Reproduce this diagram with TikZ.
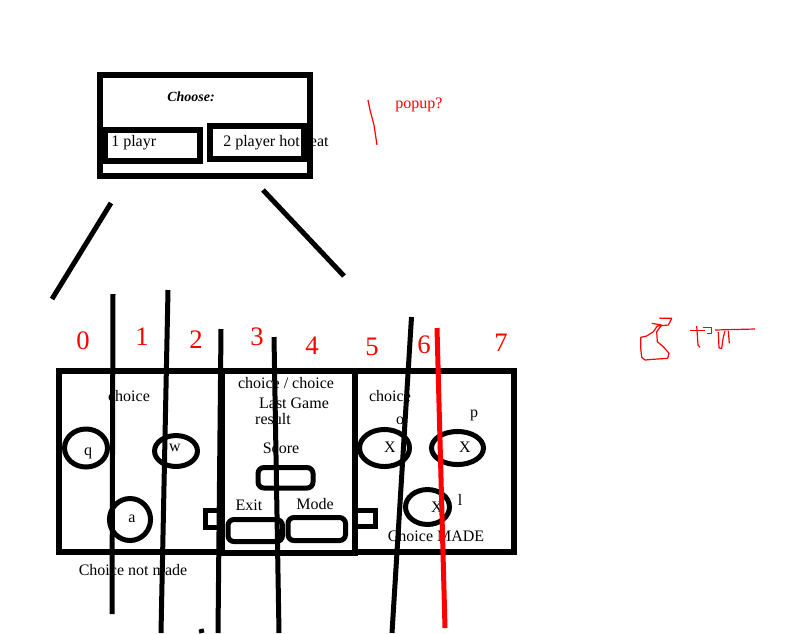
\documentclass[tikz,border=0pt]{standalone}
\usepackage{fontspec}
\setmainfont{Liberation Serif}
\begin{document}
\begin{tikzpicture}[x=0.75pt,y=-0.75pt,
  blk/.style={line width=3.75pt},
  heavy/.style={line width=4.5pt},
  redline/.style={red, line width=3.75pt},
  thinred/.style={red, line width=0.9pt, line join=round},
  lbl/.style={inner sep=0pt, font=\fontsize{12}{14}\selectfont},
  digit/.style={inner sep=0pt, text=red, font=\fontsize{20}{20}\selectfont},
  rbox/.style={blk, rounded corners=4.5pt}]
\useasboundingbox[fill=white] (0,0) rectangle (802,633);

% top chooser box
\draw[heavy] (100,75) rectangle (310,176);
\node[lbl, font=\fontsize{10.5}{12}\selectfont\bfseries\itshape] (choose) at (191,97) {Choose:};
\draw[heavy] (105,129.5) rectangle (199.5,161);
\draw[heavy] (209.5,125.5) rectangle (303.5,159);
\node[lbl, anchor=west] (one) at (111,143) {1 playr};
\node[lbl, anchor=west] (two) at (223,143) {2 player hot seat};

% branch strokes
\coordinate (bl1) at (111,203); \coordinate (bl2) at (52,299);
\coordinate (br1) at (263,190); \coordinate (br2) at (344,276);
\draw[blk] (bl1) -- (bl2);
\draw[blk] (br1) -- (br2);

% popup note
\draw[thinred] (368,100) -- (370,110) -- (374,125) -- (377,145);
\node[lbl, text=red] (popup) at (419,105) {popup?};

% red handwritten numbers
\node[digit] (d0) at (83,341) {0};
\node[digit] (d1) at (142,337) {1};
\node[digit] (d2) at (196,340) {2};
\node[digit] (d3) at (257,337) {3};
\node[digit] (d4) at (312,346) {4};
\node[digit] (d5) at (372,347) {5};
\node[digit] (d6) at (424,345) {6};
\node[digit] (d7) at (501,343) {7};
\draw[thinred] (659.3,318.3) -- (671.7,318.3) -- (668.3,325) -- (657.3,326) -- (653.3,331.7) -- (646.7,336) -- (640.7,337.3) -- (640.7,348.3) -- (641.7,357.3) -- (645,360) -- (653.3,359.3) -- (667.7,358.3) -- (669,353.3) -- (663.3,346.7) -- (657.3,341.7) -- (656.7,331.7) -- (661.7,325) -- (651.7,323.3);
\draw[thinred] (690,330.3) -- (705,330.3);
\draw[thinred] (696.7,326) -- (698,345) -- (700,347.3);
\draw[thinred] (703,327.3) -- (711.7,327.3) -- (711.7,333.3) -- (707,333.3);
\draw[thinred] (715,330) -- (755,329);
\draw[thinred] (718.3,332) -- (719,348) -- (721.7,348.3) -- (723.3,337) -- (725,331);
\draw[thinred] (728.3,331) -- (729.3,343.3);

% three screens
\draw[heavy] (59,371) rectangle (222,552);
\draw[heavy] (222,371) rectangle (355,553);
\draw[heavy] (355,371) rectangle (514,552);
\draw[blk] (222,510) -- (205,510) -- (205,527) -- (222,527);
\draw[blk] (355,510) -- (375,510) -- (375,526) -- (355,526);

% left screen
\node[lbl] (lchoice) at (129,396) {choice};
\draw[blk] (86,448) ellipse [x radius=16.1pt, y radius=14.25pt];
\draw[blk] (176,451) ellipse [x radius=16.1pt, y radius=11.6pt];
\draw[blk] (130,519.5) ellipse [x radius=15.4pt, y radius=15.75pt];
\node[lbl] (q) at (88,453) {q};
\node[lbl] (w) at (175,448) {w};
\node[lbl] (a) at (132,519) {a};
\node[lbl] (notmade) at (133,570) {Choice not made};

% middle screen
\node[lbl] (cc) at (286,383) {choice / choice};
\node[lbl] (last) at (294,403) {Last Game};
\node[lbl] (result) at (273,419) {result};
\node[lbl] (score) at (281,448) {Score};
\draw[rbox] (258,467.5) rectangle (313,488);
\node[lbl] (exit) at (249,505) {Exit};
\node[lbl] (mode) at (315,504) {Mode};
\draw[rbox] (228,519.5) rectangle (282.5,541.5);
\draw[rbox] (288,517.5) rectangle (345.5,540.5);

% right screen
\node[lbl] (rchoice) at (390,396) {choice};
\node[lbl] (o) at (400,421) {o};
\node[lbl] (p) at (474,415) {p};
\draw[blk] (384.5,448) ellipse [x radius=18.75pt, y radius=13.9pt];
\draw[blk] (457.5,448) ellipse [x radius=19.5pt, y radius=12.4pt];
\draw[blk] (427.5,507) ellipse [x radius=16.5pt, y radius=13.1pt];
\node[lbl] (x1) at (390,447) {X};
\node[lbl] (x2) at (465,447) {X};
\node[lbl] (x3) at (437,507) {X};
\node[lbl] (l) at (460,500) {l};
\node[lbl] (made) at (436,536) {Choice MADE};

% column strokes
\coordinate (v1a) at (113,294); \coordinate (v1b) at (112,614);
\coordinate (v2a) at (168,290); \coordinate (v2b) at (161,633);
\coordinate (v3a) at (221,329); \coordinate (v3b) at (218,633);
\coordinate (v4a) at (274,337); \coordinate (v4b) at (279,633);
\coordinate (v5a) at (411.5,317); \coordinate (v5b) at (392,633);
\coordinate (v6a) at (201,629); \coordinate (v6b) at (202,633);
\coordinate (ra) at (437,328); \coordinate (rb) at (445,628);
\draw[blk] (v1a) -- (v1b);
\draw[blk] (v2a) -- (v2b);
\draw[blk] (v3a) -- (v3b);
\draw[blk] (v4a) -- (v4b);
\draw[blk] (v5a) -- (v5b);
\draw[blk] (v6a) -- (v6b);
\draw[redline] (ra) -- (rb);
\end{tikzpicture}
\end{document}
